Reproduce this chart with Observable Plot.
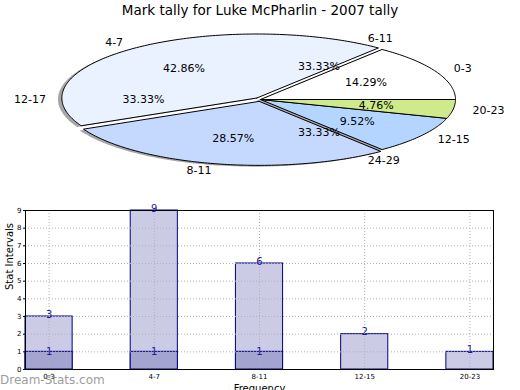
<!DOCTYPE html>
<html><head><meta charset="utf-8">
<script src="https://cdn.jsdelivr.net/npm/d3@7"></script>
<script src="https://cdn.jsdelivr.net/npm/@observablehq/plot@0.6"></script>
<style>
body{margin:0;background:#fff;font-family:"DejaVu Sans",sans-serif}
#wrap{position:relative;width:520px;height:390px;overflow:hidden}
#title{height:20px;line-height:20px;text-align:center;font-size:13.5px;color:#000}
#wm{position:absolute;left:0;top:373px;font-size:12px;color:rgba(130,130,130,0.8);pointer-events:none}
svg{display:block}
</style></head><body>
<div id="wrap"><div id="title">Mark tally for Luke McPharlin - 2007 tally</div><div id="pie"></div><div id="bar"></div><div id="wm">Dream-Stats.com</div></div>
<script>
// ---- data ----
const pieLabels = ["0-3", "4-7", "8-11", "12-15", "20-23"];
const pieValues = [3, 9, 6, 2, 1];
const pieColors = ["#ffffff", "#eaf1ff", "#c5d9ff", "#b4d5ff", "#cfea8a"];
const pieExplode = [0, 0.03, 0.03, 0, 0];
const pie2Labels = ["6-11", "12-17", "24-29"];
const pie2Values = [1, 1, 1];
const barCats = ["0-3", "4-7", "8-11", "12-15", "20-23"];
const barTotals = [3, 9, 6, 2, 1];
const barFirst = [1, 1, 1, 0, 0];
const yTicks = [0, 1, 2, 3, 4, 5, 6, 7, 8, 9];

const font = "DejaVu Sans, sans-serif";

// ---- pie geometry (unit-circle data space, scales make it elliptical) ----
function wedges(labels, values, explode) {
  const total = d3.sum(values);
  let acc = 0;
  return labels.map((label, i) => {
    const a0 = acc / total * 2 * Math.PI;
    acc += values[i];
    const a1 = acc / total * 2 * Math.PI;
    const mid = (a0 + a1) / 2;
    const e = explode ? explode[i] : 0;
    const cx = e * Math.cos(mid), cy = e * Math.sin(mid);
    const pts = [{x: cx, y: cy}];
    const n = Math.max(2, Math.ceil((a1 - a0) / (Math.PI / 180)));
    for (let k = 0; k <= n; k++) {
      const a = a0 + (a1 - a0) * k / n;
      pts.push({x: cx + Math.cos(a), y: cy + Math.sin(a)});
    }
    pts.push({x: cx, y: cy});
    const pct = values[i] / total * 100;
    return {label, i, mid, cx, cy, pts, pct, e};
  });
}
const w1 = wedges(pieLabels, pieValues, pieExplode);
const w2 = wedges(pie2Labels, pie2Values, null);

const labelPts = [...w1, ...w2].map(w => ({
  text: w.label,
  x: (1.1 + w.e) * Math.cos(w.mid),
  y: (1.1 + w.e) * Math.sin(w.mid),
  anchor: Math.cos(w.mid) >= 0 ? "start" : "end"
}));
const pctPts = [...w1, ...w2].map(w => ({
  text: w.pct.toFixed(2) + "%",
  x: (0.6 + w.e) * Math.cos(w.mid),
  y: (0.6 + w.e) * Math.sin(w.mid)
}));

const RX = 195, RY = 64, CXp = 260, CYp = 79, PH = 175;
const pieMarks = [];
w1.forEach(w => {
  pieMarks.push(Plot.line(w.pts, {x: d => d.x - 0.02, y: d => d.y - 0.02, fill: "#4d4d4d", fillOpacity: 0.5, stroke: "none"}));
});
w1.forEach((w, i) => {
  pieMarks.push(Plot.line(w.pts, {x: "x", y: "y", fill: pieColors[i], stroke: "#000", strokeWidth: 1}));
});
pieMarks.push(Plot.text(labelPts.filter(d => d.anchor === "start"), {x: "x", y: "y", text: "text", textAnchor: "start", fontSize: 11, fill: "#000"}));
pieMarks.push(Plot.text(labelPts.filter(d => d.anchor === "end"), {x: "x", y: "y", text: "text", textAnchor: "end", fontSize: 11, fill: "#000"}));
pieMarks.push(Plot.text(pctPts, {x: "x", y: "y", text: "text", textAnchor: "middle", fontSize: 11, fill: "#000"}));

const pie = Plot.plot({
  width: 520, height: PH,
  marginTop: 0, marginBottom: 0, marginLeft: 0, marginRight: 0,
  x: {domain: [-CXp / RX, (520 - CXp) / RX], axis: null},
  y: {domain: [-(PH - CYp) / RY, CYp / RY], axis: null},
  style: {fontFamily: font, background: "transparent", overflow: "visible"},
  marks: pieMarks
});
document.getElementById("pie").appendChild(pie);

// ---- bar chart ----
const rows = barCats.map((c, i) => ({cat: c, total: barTotals[i], first: barFirst[i]}));
const bar = Plot.plot({
  width: 520, height: 195,
  marginTop: 15, marginBottom: 21, marginLeft: 25, marginRight: 27,
  x: {type: "band", domain: barCats, paddingInner: 0.552, paddingOuter: 0, align: 0.5, round: false, tickSize: 0, tickPadding: 5, label: null},
  y: {domain: [0, 9], ticks: yTicks, tickSize: 2, tickPadding: 2, label: null},
  style: {fontFamily: font, fontSize: "7px", background: "transparent", overflow: "visible"},
  marks: [
    Plot.barY(rows, {x: "cat", y: "total", fill: "#cbcbe6", stroke: "#000080", strokeWidth: 1}),
    Plot.barY(rows.filter(d => d.first > 0), {x: "cat", y: "first", fill: "#a4a4d0", stroke: "#000080", strokeWidth: 1}),
    Plot.ruleY(yTicks.slice(1, -1), {stroke: "#b0b0b0", strokeDasharray: "1,2", strokeWidth: 1}),
    Plot.ruleX(barCats, {stroke: "#b0b0b0", strokeDasharray: "1,2", strokeWidth: 1}),
    Plot.text(rows, {x: "cat", y: "total", text: d => String(d.total), lineAnchor: "bottom", dy: 1, fontSize: 10, fill: "#1a1a9a"}),
    Plot.text(rows.filter(d => d.first > 0), {x: "cat", y: "first", text: d => String(d.first), lineAnchor: "middle", fontSize: 10, fill: "#1a1a9a"}),
    Plot.frame({stroke: "#000", strokeWidth: 1}),
    Plot.text(["Stat Intervals"], {frameAnchor: "left", text: d => d, rotate: -90, dx: -16, fontSize: 10, fill: "#000"}),
    Plot.text(["Frequency"], {frameAnchor: "bottom", text: d => d, lineAnchor: "top", dy: 15, fontSize: 10, fill: "#000"})
  ]
});
document.getElementById("bar").appendChild(bar);
</script>
</body></html>
